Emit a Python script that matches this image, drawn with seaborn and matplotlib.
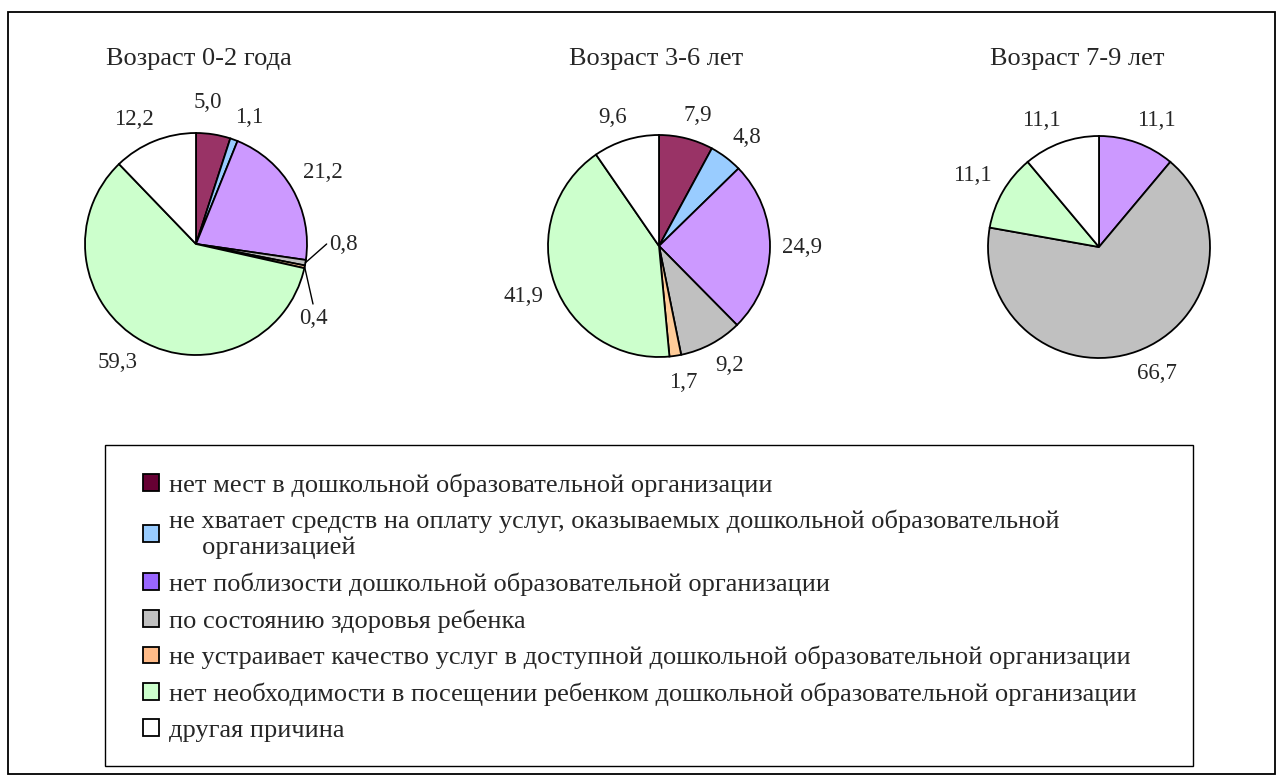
import numpy as np
import matplotlib
matplotlib.use("Agg")
import matplotlib.pyplot as plt
import seaborn as sns
from matplotlib.patches import Patch, Rectangle

sns.set_style("white")
plt.rcParams['font.family'] = ['Liberation Serif', 'DejaVu Serif']

# data
reasons = [
    "нет мест в дошкольной образовательной организации",
    "не хватает средств на оплату услуг, оказываемых дошкольной образовательной\n     организацией",
    "нет поблизости дошкольной образовательной организации",
    "по состоянию здоровья ребенка",
    "не устраивает качество услуг в доступной дошкольной образовательной организации",
    "нет необходимости в посещении ребенком дошкольной образовательной организации",
    "другая причина",
]
titles = ["Возраст 0-2 года", "Возраст 3-6 лет", "Возраст 7-9 лет"]
age_0_2 = [5.0, 1.1, 21.2, 0.8, 0.4, 59.3, 12.2]
age_3_6 = [7.9, 4.8, 24.9, 9.2, 1.7, 41.9, 9.6]
age_7_9 = [0.0, 0.0, 11.1, 66.7, 0.0, 11.1, 11.1]

pie_colors = ["#993366", "#99CCFF", "#CC99FF", "#C0C0C0", "#FFCC99", "#CCFFCC", "#FFFFFF"]
legend_colors = ["#660033", "#99CCFF", "#9966FF", "#C0C0C0", "#FFBB88", "#CCFFCC", "#FFFFFF"]

FS_LEG, FS_LAB, FS_TTL = 19, 16.5, 19
W, H = 1277, 776
fig = plt.figure(figsize=(W / 100, H / 100), dpi=100)

# outer frame
fig.patches.append(Rectangle((8 / W, 2 / H), 1267 / W, 762 / H, transform=fig.transFigure,
                             fill=False, edgecolor="black", linewidth=1.3))

centers = [(196, 244), (659, 246), (1099, 247)]
title_x = [199, 656, 1077]
R = 111
L = 1.8
S = 2 * L * R
PAD = 12

# hand-placed labels (pie, slice) -> (dx px, dy px, leader line)
special = {(0, 0): (12, 141, False), (0, 3): (147, 0, True),
           (0, 4): (117, -74, True), (1, 4): (24, -136, False)}

for k, (vals, (cx, cy)) in enumerate(zip([age_0_2, age_3_6, age_7_9], centers)):
    ax = fig.add_axes([(cx - S / 2) / W, 1 - (cy + S / 2) / H, S / W, S / H])
    idx = [i for i, v in enumerate(vals) if v > 0]
    v = [vals[i] for i in idx]
    wedges, _ = ax.pie(v, colors=[pie_colors[i] for i in idx], startangle=90,
                       counterclock=False,
                       wedgeprops=dict(edgecolor="black", linewidth=1.3))
    for w, i, val in zip(wedges, idx, v):
        ang = np.deg2rad((w.theta1 + w.theta2) / 2)
        c, s = np.cos(ang), np.sin(ang)
        txt = f"{val:.1f}".replace(".", ",")
        tw = 11.5 * (len(txt) - 1) + 5.7
        th = 22
        if (k, i) in special:
            dx, dy, line = special[(k, i)]
            if line:
                if dy == 0:
                    lx, ly = (dx - tw / 2 - 2) / R, dy / R
                else:
                    lx, ly = dx / R, (dy + th / 2 + 3) / R
                ax.plot([c, lx], [s, ly], color="black", lw=1)
        else:
            dx = (R + PAD) * c + tw / 2 * np.tanh(3 * c)
            dy = (R + PAD) * s + th / 2 * np.tanh(3 * s)
        ax.text(dx / R, dy / R, txt, ha="center", va="center", fontsize=FS_LAB)
    ax.set_xlim(-L, L)
    ax.set_ylim(-L, L)
    ax.set_aspect("equal")
    ax.axis("off")
    fig.text(title_x[k] / W, 1 - 65 / H, titles[k], ha="center", va="baseline", fontsize=FS_TTL)

# legend box
fig.patches.append(Rectangle((105 / W, 1 - 766 / H), 1088 / W, 321 / H, transform=fig.transFigure,
                             fill=False, edgecolor="black", linewidth=1.0))
handles = [Patch(facecolor=c, edgecolor="black", linewidth=1.3) for c in legend_colors]
leg = fig.legend(handles, reasons, loc="upper left", bbox_to_anchor=(143 / W, 1 - 473 / H),
                 frameon=False, fontsize=FS_LEG, handlelength=0.6, handleheight=0.6,
                 handletextpad=0.4, labelspacing=0.5, borderaxespad=0, borderpad=0)
for t in leg.get_texts():
    t.set_linespacing(1.2)

fig.savefig("out.png", dpi=100)
